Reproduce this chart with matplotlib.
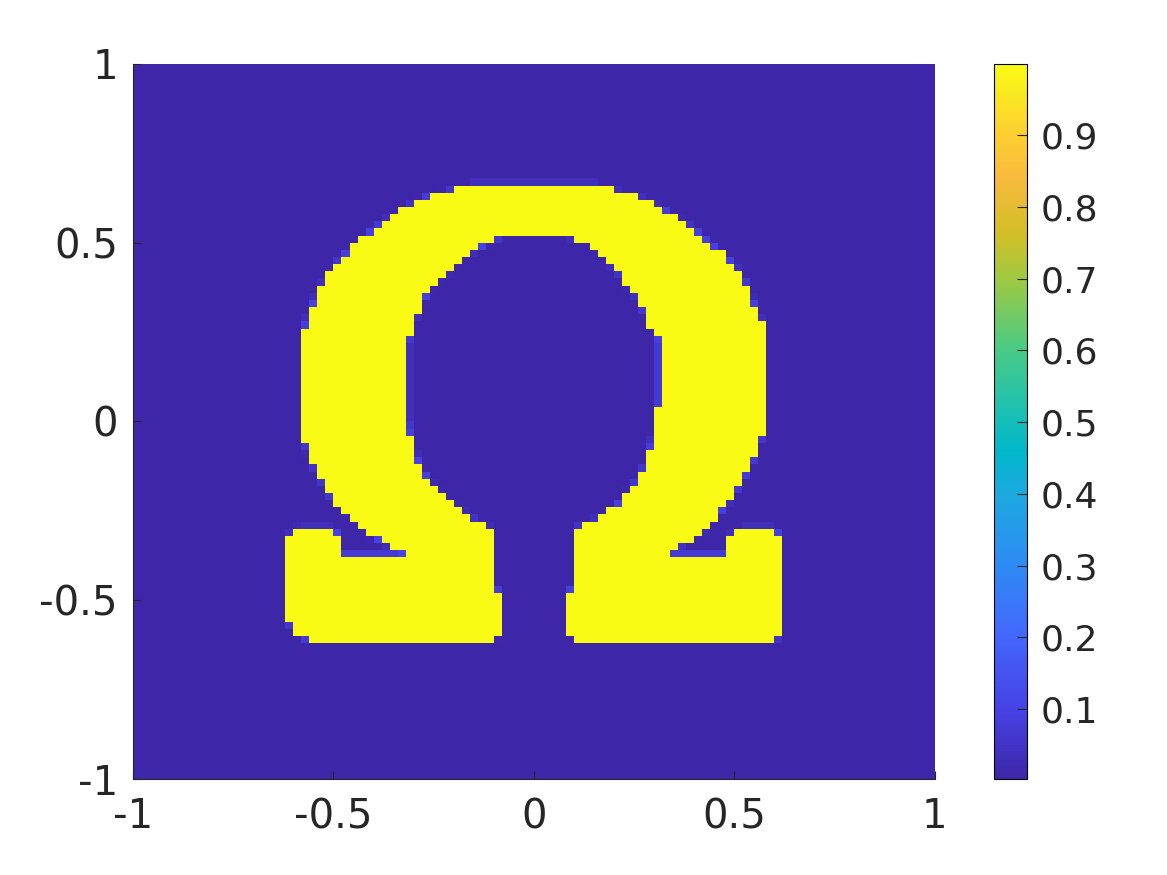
import numpy as np
import matplotlib
matplotlib.use("Agg")
import matplotlib.pyplot as plt
from matplotlib.colors import LinearSegmentedColormap
from matplotlib.path import Path

# outline of the Omega region (data units)
omega_x = [-0.601, -0.618, -0.618, -0.601, -0.584, -0.501, -0.484, -0.479, -0.302, -0.342,
           -0.401, -0.441, -0.501, -0.539, -0.559, -0.579, -0.579, -0.559, -0.539, -0.516,
           -0.479, -0.439, -0.397, -0.339, -0.277, -0.202, -0.160, 0.160, 0.222, 0.282,
           0.344, 0.401, 0.444, 0.484, 0.521, 0.559, 0.581, 0.581, 0.564, 0.551,
           0.509, 0.471, 0.421, 0.369, 0.322, 0.481, 0.489, 0.521, 0.601, 0.621,
           0.621, 0.601, 0.115, 0.082, 0.082, 0.102, 0.102, 0.172, 0.222, 0.264,
           0.284, 0.302, 0.314, 0.314, 0.282, 0.264, 0.222, 0.182, 0.140, 0.077,
           -0.077, -0.117, -0.177, -0.217, -0.252, -0.277, -0.302, -0.317, -0.317, -0.302,
           -0.284, -0.259, -0.217, -0.177, -0.142, -0.102, -0.102, -0.080, -0.080, -0.110,
           -0.559]
omega_y = [-0.583, -0.541, -0.345, -0.303, -0.295, -0.298, -0.317, -0.373, -0.373, -0.359,
           -0.323, -0.284, -0.220, -0.141, -0.099, -0.018, 0.236, 0.303, 0.362, 0.401,
           0.460, 0.502, 0.541, 0.586, 0.625, 0.648, 0.662, 0.662, 0.639, 0.620,
           0.578, 0.536, 0.494, 0.457, 0.404, 0.303, 0.242, -0.024, -0.052, -0.102,
           -0.186, -0.248, -0.309, -0.345, -0.373, -0.373, -0.317, -0.298, -0.298, -0.331,
           -0.583, -0.617, -0.617, -0.583, -0.480, -0.457, -0.298, -0.267, -0.220, -0.155,
           -0.108, -0.024, 0.060, 0.228, 0.284, 0.340, 0.401, 0.452, 0.499, 0.522,
           0.522, 0.499, 0.460, 0.415, 0.387, 0.340, 0.276, 0.214, 0.004, -0.080,
           -0.127, -0.172, -0.220, -0.256, -0.281, -0.303, -0.457, -0.485, -0.583, -0.617,
           -0.617]

n_cells = 100
field_min = 0.0025
field_max = 0.999
edge_level = 0.2
cbar_ticks = [0.1, 0.2, 0.3, 0.4, 0.5, 0.6, 0.7, 0.8, 0.9]
axis_ticks = [-1, -0.5, 0, 0.5, 1]
axis_labels = ["-1", "-0.5", "0", "0.5", "1"]

# parula-like colormap
parula = LinearSegmentedColormap.from_list("parula", [
    (0.0, (0.2422, 0.1504, 0.6603)),
    (0.095, (0.2783, 0.2559, 0.8991)),
    (0.206, (0.2602, 0.4123, 0.9952)),
    (0.302, (0.1764, 0.5499, 0.9520)),
    (0.397, (0.1113, 0.6635, 0.8763)),
    (0.460, (0.0036, 0.7203, 0.7917)),
    (0.508, (0.0964, 0.7500, 0.7120)),
    (0.603, (0.2906, 0.7973, 0.5188)),
    (0.698, (0.6174, 0.7876, 0.2612)),
    (0.762, (0.8203, 0.7498, 0.1535)),
    (0.841, (0.9728, 0.7298, 0.2394)),
    (0.905, (0.9892, 0.8136, 0.1885)),
    (1.0, (0.9769, 0.9839, 0.0805))])

# rasterise the outline onto the grid, with a faint rim on partly covered cells
sub = 6
edges = np.linspace(-1, 1, n_cells + 1)
fine = np.linspace(-1, 1, n_cells * sub, endpoint=False) + 1.0 / (n_cells * sub)
fx, fy = np.meshgrid(fine, fine)
path = Path(np.column_stack([omega_x, omega_y]))
inside = path.contains_points(np.column_stack([fx.ravel(), fy.ravel()])).reshape(fx.shape)
cover = inside.reshape(n_cells, sub, n_cells, sub).mean(axis=(1, 3))
field = np.where(cover >= 0.5, 1.0, edge_level * cover)
field = field_min + (field_max - field_min) * field

fig = plt.figure(figsize=(11.67, 8.75), dpi=100)
ax = fig.add_axes([0.114, 0.1097, 0.687, 0.8172])
im = ax.pcolormesh(edges, edges, field, cmap=parula, vmin=field_min, vmax=field_max,
                   shading="flat")
ax.set_xlim(-1, 1)
ax.set_ylim(-1, 1)
ax.set_xticks(axis_ticks)
ax.set_xticklabels(axis_labels)
ax.set_yticks(axis_ticks)
ax.set_yticklabels(axis_labels)
ax.tick_params(direction="in", length=6, labelsize=29, colors="#262626")
ax.tick_params(axis="x", pad=13)
ax.tick_params(axis="y", pad=11)
for side in ["top", "right"]:
    ax.spines[side].set_visible(False)
for side in ["left", "bottom"]:
    ax.spines[side].set_color("#262626")
    ax.spines[side].set_linewidth(0.8)

cax = fig.add_axes([0.8518, 0.1097, 0.0283, 0.8172])
cb = fig.colorbar(im, cax=cax, ticks=cbar_ticks)
cb.ax.set_yticklabels([f"{t:g}" for t in cbar_ticks])
cb.ax.tick_params(direction="in", length=7, labelsize=26, colors="#262626", pad=10)
cb.outline.set_linewidth(0.8)

fig.savefig("out.png", dpi=100)
